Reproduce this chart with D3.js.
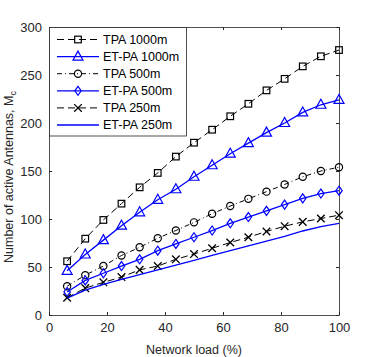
<!DOCTYPE html>
<html>
<head>
<meta charset="utf-8">
<style>
  body { margin: 0; background: #fff; }
  svg { display: block; font-family: "Liberation Sans", Arial, sans-serif; }
  .axis text { fill: #262626; font-size: 13px; }
  .axis path, .axis line { stroke: #262626; }
</style>
<script src="https://d3js.org/d3.v7.min.js"></script>
</head>
<body>
<div id="chart"></div>
<script>
// network load (%) on the x axis
var load = [6.25, 12.5, 18.75, 25, 31.25, 37.5, 43.75, 50, 56.25, 62.5, 68.75, 75, 81.25, 87.5, 93.75, 100];

// number of active antennas per scheme
var tpa1000  = [56, 79.5, 99, 116, 133, 148, 165, 179.5, 193, 207, 220, 234, 246, 259, 269.5, 276];
var etpa1000 = [46, 63, 78, 93, 107, 120, 131, 144, 156, 168, 179, 190, 200, 211, 219, 224];
var tpa500   = [30, 41.5, 51, 62, 70.5, 80, 88, 96.5, 105.5, 113.5, 121, 128.5, 136, 144, 150, 154];
var etpa500  = [24, 36, 43.5, 51, 58, 67, 74, 81, 88, 95.5, 102, 108.5, 115, 121.5, 126.5, 129.5];
var tpa250   = [18, 28, 34, 39.5, 47, 51, 58, 63.5, 69.5, 75.5, 81, 87, 92.5, 97, 100.5, 104];
var etpa250  = [17.5, 26, 32, 37, 42, 47, 52, 57, 62, 67, 72, 77, 82, 87.5, 92, 95.5];

var seriesNames = ["TPA 1000m", "ET-PA 1000m", "TPA 500m", "ET-PA 500m", "TPA 250m", "ET-PA 250m"];
var xTicks = [0, 20, 40, 60, 80, 100];
var yTicks = [0, 50, 100, 150, 200, 250, 300];

var series = [
  {name: seriesNames[0], values: tpa1000,  color: "#000", dash: "7,4",     marker: "square"},
  {name: seriesNames[1], values: etpa1000, color: "#0000ff", dash: null,   marker: "triangle"},
  {name: seriesNames[2], values: tpa500,   color: "#000", dash: "5,3,1,3", marker: "circle"},
  {name: seriesNames[3], values: etpa500,  color: "#0000ff", dash: null,   marker: "diamond"},
  {name: seriesNames[4], values: tpa250,   color: "#000", dash: "7,4",     marker: "cross"},
  {name: seriesNames[5], values: etpa250,  color: "#0000ff", dash: null,   marker: null}
];

var width = 375, height = 357;
var margin = {left: 49, right: 36, top: 27, bottom: 42};

var svg = d3.select("#chart").append("svg")
  .attr("width", width)
  .attr("height", height);

var x = d3.scaleLinear().domain([0, 100]).range([margin.left, width - margin.right]);
var y = d3.scaleLinear().domain([0, 300]).range([height - margin.bottom, margin.top]);

// axes box with inward ticks, like matlab
svg.append("g").attr("class", "axis")
  .attr("transform", "translate(0," + y(0) + ")")
  .call(d3.axisBottom(x).tickValues(xTicks).tickSizeInner(-3).tickSizeOuter(0).tickPadding(8))
  .call(g => g.select(".domain").remove());
svg.append("g").attr("class", "axis")
  .attr("transform", "translate(0," + y(300) + ")")
  .call(d3.axisTop(x).tickValues(xTicks).tickSizeInner(-3).tickSizeOuter(0).tickFormat(""))
  .call(g => g.select(".domain").remove());
svg.append("g").attr("class", "axis")
  .attr("transform", "translate(" + x(0) + ",0)")
  .call(d3.axisLeft(y).tickValues(yTicks).tickSizeInner(-3).tickSizeOuter(0).tickPadding(7))
  .call(g => g.select(".domain").remove());
svg.append("g").attr("class", "axis")
  .attr("transform", "translate(" + x(100) + ",0)")
  .call(d3.axisRight(y).tickValues(yTicks).tickSizeInner(-3).tickSizeOuter(0).tickFormat(""))
  .call(g => g.select(".domain").remove());

svg.append("rect")
  .attr("x", x(0) + 0.5).attr("y", y(300) + 0.5)
  .attr("width", x(100) - x(0)).attr("height", y(0) - y(300))
  .attr("fill", "none").attr("stroke", "#262626").attr("stroke-width", 0.8);

function drawMarker(g, type, cx, cy, color) {
  if (type === "square") {
    g.append("rect").attr("x", cx - 3.3).attr("y", cy - 3.3).attr("width", 6.6).attr("height", 6.6)
      .attr("fill", "none").attr("stroke", color).attr("stroke-width", 1.2);
  } else if (type === "triangle") {
    g.append("path").attr("d", "M" + cx + "," + (cy - 5.5) + "L" + (cx + 5) + "," + (cy + 3.5) + "L" + (cx - 5) + "," + (cy + 3.5) + "Z")
      .attr("fill", "none").attr("stroke", color).attr("stroke-width", 1.2);
  } else if (type === "circle") {
    g.append("circle").attr("cx", cx).attr("cy", cy).attr("r", 3.6)
      .attr("fill", "none").attr("stroke", color).attr("stroke-width", 1.2);
  } else if (type === "diamond") {
    g.append("path").attr("d", "M" + cx + "," + (cy - 4.5) + "L" + (cx + 3.2) + "," + cy + "L" + cx + "," + (cy + 4.5) + "L" + (cx - 3.2) + "," + cy + "Z")
      .attr("fill", "none").attr("stroke", color).attr("stroke-width", 1.2);
  } else if (type === "cross") {
    g.append("path").attr("d", "M" + (cx - 3.8) + "," + (cy - 3.8) + "L" + (cx + 3.8) + "," + (cy + 3.8) +
      "M" + (cx + 3.8) + "," + (cy - 3.8) + "L" + (cx - 3.8) + "," + (cy + 3.8))
      .attr("fill", "none").attr("stroke", color).attr("stroke-width", 1.3);
  }
}

var line = d3.line().x((d, i) => x(load[i])).y(d => y(d));

series.forEach(function(s) {
  var g = svg.append("g");
  g.append("path")
    .attr("d", line(s.values))
    .attr("fill", "none")
    .attr("stroke", s.color)
    .attr("stroke-width", s.color === "#000" ? 1 : 1.3)
    .attr("stroke-dasharray", s.dash);
  if (s.marker) {
    s.values.forEach(function(v, i) { drawMarker(g, s.marker, x(load[i]), y(v), s.color); });
  }
});

// legend
var leg = svg.append("g");
leg.append("rect")
  .attr("x", 49.5).attr("y", 27.5).attr("width", 137).attr("height", 108.5)
  .attr("fill", "#fff").attr("stroke", "#262626").attr("stroke-width", 0.8);
series.forEach(function(s, i) {
  var ly = 39.5 + i * 17.1;
  leg.append("line")
    .attr("x1", 57).attr("x2", 99).attr("y1", ly).attr("y2", ly)
    .attr("stroke", s.color)
    .attr("stroke-width", s.color === "#000" ? 1 : 1.3)
    .attr("stroke-dasharray", s.dash);
  if (s.marker) drawMarker(leg, s.marker, 78, ly, s.color);
  leg.append("text")
    .attr("x", 103).attr("y", ly).attr("dy", "0.35em")
    .attr("font-size", 12.5).attr("fill", "#000")
    .text(s.name);
});

// axis titles
svg.append("text")
  .attr("x", x(50)).attr("y", 354)
  .attr("text-anchor", "middle").attr("font-size", 12.5).attr("fill", "#262626")
  .text("Network load (%)");

var yl = svg.append("text")
  .attr("transform", "translate(13," + ((y(0) + y(300)) / 2 + 6) + ") rotate(-90)")
  .attr("text-anchor", "middle").attr("font-size", 12.5).attr("fill", "#262626");
yl.append("tspan").text("Number of active Antennas, M");
yl.append("tspan").attr("font-size", 9).attr("dy", 3).text("c");
</script>
</body>
</html>
